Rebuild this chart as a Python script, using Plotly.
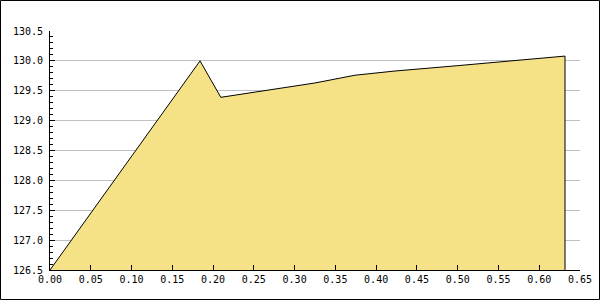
import plotly.graph_objects as go

x_vals = [0.0, 0.184, 0.2095, 0.27, 0.325, 0.374, 0.423, 0.5, 0.6316]
y_vals = [126.5, 130.0, 129.39, 129.52, 129.63, 129.76, 129.83, 129.92, 130.08]
baseline = 126.5

x_ticks = [round(i * 0.05, 2) for i in range(14)]
y_ticks = [126.5, 127.0, 127.5, 128.0, 128.5, 129.0, 129.5, 130.0, 130.5]

xs = x_vals + [x_vals[-1]]
ys = y_vals + [baseline]

fig = go.Figure()
fig.add_trace(go.Scatter(
    x=xs, y=ys, mode="lines", fill="toself",
    fillcolor="#f6e286", line=dict(color="black", width=1),
    hoverinfo="skip", showlegend=False, cliponaxis=False,
))

font = dict(family="DejaVu Sans Mono", size=10, color="black")
L, R, T, B = 50, 20, 31, 30
W, H = 600, 300
pw, ph = W - L - R, H - T - B

fig.update_layout(
    width=W, height=H,
    margin=dict(l=L, r=R, t=T, b=B, autoexpand=False),
    paper_bgcolor="white", plot_bgcolor="white",
    font=font,
    xaxis=dict(
        range=[0, 0.65], tickvals=x_ticks, tickformat=".2f",
        ticks="inside", ticklen=5, tickcolor="black", tickwidth=1,
        showline=True, linecolor="black", linewidth=1,
        showgrid=False, zeroline=False, tickfont=font, automargin=False,
    ),
    yaxis=dict(
        range=[126.5, 130.5], tickvals=y_ticks, tickformat=".1f",
        ticks="inside", ticklen=5, tickcolor="black", tickwidth=1,
        showline=True, linecolor="black", linewidth=1,
        showgrid=True, gridcolor="#c0c0c0", gridwidth=1,
        zeroline=False, tickfont=font, automargin=False,
        ticklabelstandoff=4,
        minor=dict(dtick=0.1, tick0=126.5, ticks="inside", ticklen=3,
                   tickcolor="black", showgrid=False),
    ),
    shapes=[dict(
        type="rect", xref="paper", yref="paper",
        x0=(-L + 0.5) / pw, x1=(pw + R - 0.5) / pw,
        y0=(-B + 0.5) / ph, y1=(ph + T - 0.5) / ph,
        line=dict(color="black", width=1), layer="above",
    )],
)

fig.write_html("out.html")
